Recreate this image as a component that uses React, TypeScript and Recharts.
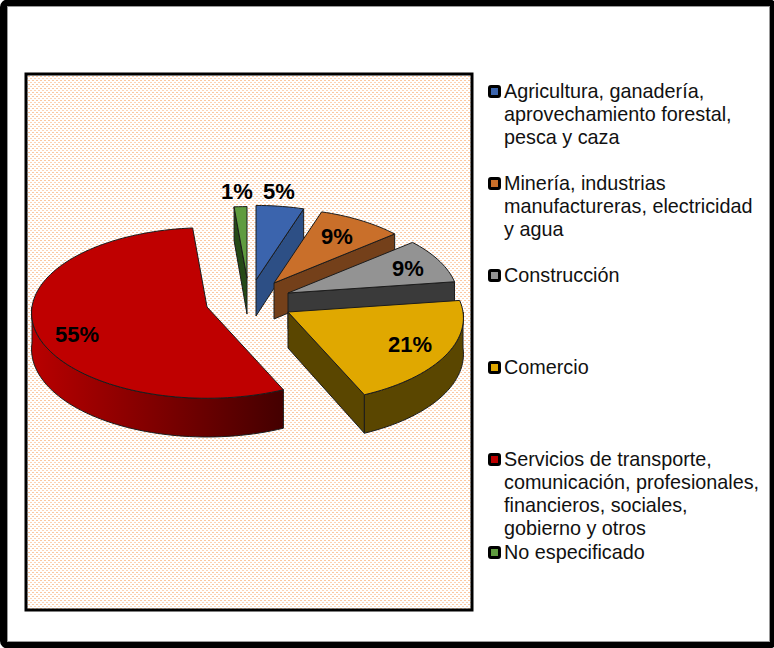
import React from "react";
import { PieChart, Pie, Legend } from "recharts";

const categories = [
  "Agricultura, ganadería, aprovechamiento forestal, pesca y caza",
  "Minería, industrias manufactureras, electricidad y agua",
  "Construcción",
  "Comercio",
  "Servicios de transporte, comunicación, profesionales, financieros, sociales, gobierno y otros",
  "No especificado",
];
const values = [5, 8.9, 8.9, 20.5, 55.3, 1.4];

const legendLines = [
  ["Agricultura, ganadería,", "aprovechamiento forestal,", "pesca y caza"],
  ["Minería, industrias", "manufactureras, electricidad", "y agua"],
  ["Construcción"],
  ["Comercio"],
  ["Servicios de transporte,", "comunicación, profesionales,", "financieros, sociales,", "gobierno y otros"],
  ["No especificado"],
];
const legendTops = [80, 172, 264, 356, 448, 541];

const topColors = ["#3b64ad", "#c96f2a", "#939393", "#e0a800", "#bf0000", "#5f9c3f"];
const sideColors = ["#2d4f85", "#74401a", "#3a3a3a", "#5a4600", "url(#redRim)", "#264a17"];
// per-slice explosion, seen on screen, and the shrink that comes with distance
const explodeX = [49, 67, 81, 81, 0, 40];
const explodeY = [-27, -24, -14, 5, 0, -29];
const depthScale = [0.94, 0.94, 0.97, 1, 1, 0.9];
const labelX = [279, 337, 408, 410, 77, 237];
const labelY = [191, 236, 268, 344, 334, 191];

const TILT = 0.485;
const PERSP = 0.07;
const DEPTH = 36;

const data = categories.map((name, i) => ({ name, value: values[i], fill: topColors[i] }));

function SliceShape(props: any) {
  const { cx, cy, outerRadius, startAngle, endAngle, name } = props;
  const i = categories.indexOf(name);
  const ax = cx + explodeX[i];
  const ay = cy + explodeY[i];
  const R = outerRadius * depthScale[i];
  // recharts angles are math degrees: convert to clockwise from the top
  const t0 = 90 - startAngle;
  const t1 = 90 - endAngle;
  const rad = (d: number) => (d * Math.PI) / 180;
  const pt = (d: number, drop = 0) => {
    const s = 1 / (1 + PERSP * Math.cos(rad(d)));
    return [
      ax + R * Math.sin(rad(d)) * s,
      ay - R * TILT * Math.cos(rad(d)) * s + drop * s,
    ];
  };
  const arc = (a: number, b: number, drop = 0) => {
    const out: number[][] = [];
    const n = Math.max(2, Math.ceil(Math.abs(b - a) / 2));
    for (let k = 0; k <= n; k++) out.push(pt(a + ((b - a) * k) / n, drop));
    return out;
  };
  const path = (p: number[][]) =>
    "M" + p.map((q) => `${q[0].toFixed(2)} ${q[1].toFixed(2)}`).join("L") + "Z";

  const stroke = { stroke: "#1c1c1c", strokeWidth: 1, strokeLinejoin: "round" as const };
  const apex = [ax, ay];
  const apexLow = [ax, ay + DEPTH];
  const faces: React.ReactNode[] = [];
  if (Math.sin(rad(t0)) < 0) {
    faces.push(
      <path key="s" d={path([apex, pt(t0), pt(t0, DEPTH), apexLow])} fill={sideColors[i]} {...stroke} />
    );
  }
  if (Math.sin(rad(t1)) > 0.01) {
    faces.push(
      <path key="e" d={path([apex, pt(t1), pt(t1, DEPTH), apexLow])} fill={sideColors[i]} {...stroke} />
    );
  }
  const ra = Math.max(t0, 90);
  const rb = Math.min(t1, 270);
  if (rb > ra) {
    faces.push(
      <path
        key="r"
        d={path([...arc(ra, rb), ...arc(rb, ra, DEPTH)])}
        fill={sideColors[i]}
        {...stroke}
      />
    );
  }
  return (
    <g>
      {faces}
      <path d={path([apex, ...arc(t0, t1)])} fill={topColors[i]} {...stroke} />
    </g>
  );
}

function renderLabel(props: any) {
  const i = categories.indexOf(props.name);
  return (
    <text
      x={labelX[i]}
      y={labelY[i]}
      textAnchor="middle"
      dominantBaseline="central"
      fontFamily="'Liberation Sans', Arial, sans-serif"
      fontWeight="bold"
      fontSize={22}
      fill="#000"
    >
      {Math.round(props.value)}%
    </text>
  );
}

function renderLegend(props: any) {
  const payload = props.payload || [];
  return (
    <div style={{ position: "relative", width: 286, height: 600 }}>
      {payload.map((entry: any) => {
        const i = categories.indexOf(entry.value);
        return (
          <div key={entry.value} style={{ position: "absolute", left: 0, top: legendTops[i] }}>
            <div
              style={{
                position: "absolute",
                left: 0,
                top: 5,
                width: 7,
                height: 7,
                background: topColors[i],
                border: "3px solid #000",
                borderRadius: 3,
              }}
            />
            <div
              style={{
                marginLeft: 16,
                fontFamily: "'Liberation Sans', Arial, sans-serif",
                fontSize: 19.8,
                lineHeight: "23px",
                color: "#111",
                whiteSpace: "nowrap",
              }}
            >
              {legendLines[i].map((l) => (
                <div key={l}>{l}</div>
              ))}
            </div>
          </div>
        );
      })}
    </div>
  );
}

export default function App() {
  return (
    <div style={{ position: "absolute", left: 0, top: 0, width: 774, height: 648, overflow: "hidden", background: "#fff" }}>
      <PieChart width={774} height={648} margin={{ top: 0, right: 0, bottom: 0, left: 0 }}>
        <defs>
          <pattern id="dots" width="4" height="4" patternUnits="userSpaceOnUse">
            <rect width="4" height="4" fill="#fff" />
            <rect x="0" y="0" width="2" height="1" fill="#fbc7a0" />
            <rect x="2" y="2" width="2" height="1" fill="#fbd3b6" />
          </pattern>
          <linearGradient id="redRim" x1="0" y1="0" x2="1" y2="0">
            <stop offset="0%" stopColor="#b80000" />
            <stop offset="100%" stopColor="#440000" />
          </linearGradient>
        </defs>
        <rect x={3.5} y={3} width={770} height={642} rx={4} fill="#fff" stroke="#000" strokeWidth={7} />
        <rect x={7.5} y={6.5} width={762} height={635} fill="none" stroke="#999" strokeWidth={1} />
        <rect x={26} y={74} width={446} height={536} fill="url(#dots)" stroke="#000" strokeWidth={3} />
        <Pie
          data={data}
          dataKey="value"
          nameKey="name"
          cx={207}
          cy={307}
          outerRadius={175}
          startAngle={90}
          endAngle={-270}
          isAnimationActive={false}
          shape={SliceShape}
          label={renderLabel}
          labelLine={false}
        />
        <Legend
          content={renderLegend}
          wrapperStyle={{ position: "absolute", left: 488, top: 0, width: 286, height: 648 }}
        />
      </PieChart>
    </div>
  );
}
